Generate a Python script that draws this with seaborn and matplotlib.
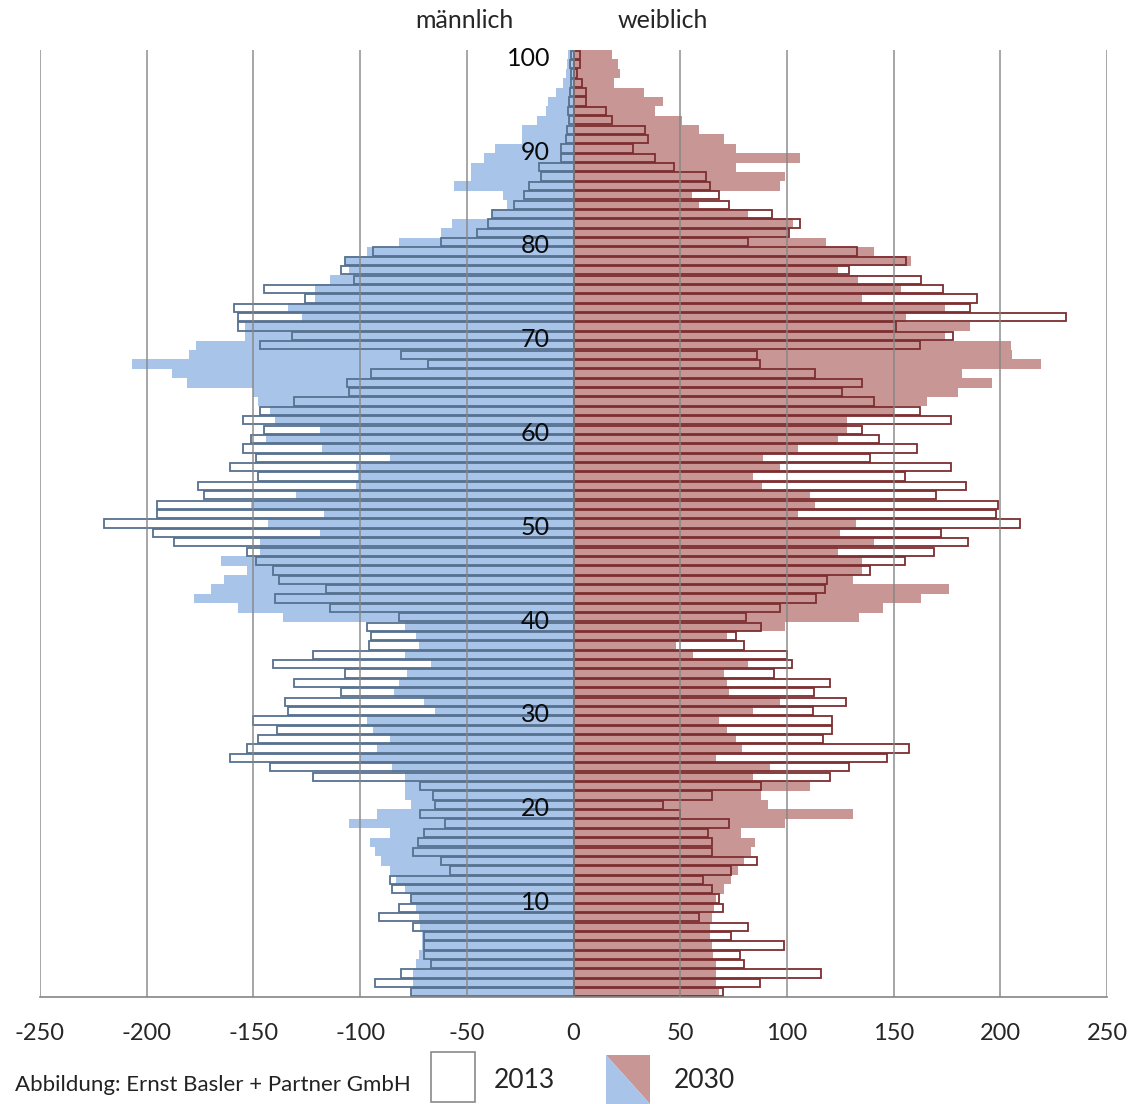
import pandas as pd
import matplotlib.pyplot as plt
from matplotlib.patches import Rectangle, Polygon
import seaborn as sns

# --- Daten (Bevölkerung je Altersjahr) ---
alter = list(range(101))

maenner_2013 = [76, 93, 81, 67, 70, 70, 70, 75, 91, 82,
                76, 85, 86, 58, 62, 75, 73, 70, 60, 72,
                65, 66, 72, 122, 142, 161, 153, 148, 139, 150,
                134, 135, 109, 131, 107, 141, 122, 96, 95, 97,
                82, 114, 140, 116, 138, 141, 149, 153, 187, 197,
                220, 195, 195, 173, 176, 148, 161, 149, 155, 151,
                145, 155, 147, 131, 105, 106, 95, 68, 81, 147,
                132, 157, 157, 159, 126, 145, 103, 109, 107, 94,
                62, 45, 40, 38, 28, 23, 21, 15, 16, 6,
                6, 3.5, 3, 2, 2.5, 2, 1.5, 1, 1, 1.5, 1]

maenner_2030 = [76, 75, 75, 74, 72.5, 71, 71, 72, 72.5, 74,
                76, 79, 83, 86, 90, 93, 95.5, 86, 105, 92,
                76, 79, 79, 79, 85, 100, 92, 86, 94, 97,
                65, 70, 84, 82, 78, 67, 79, 72.5, 74, 79,
                136, 157, 178, 170, 164, 153, 165, 147, 147, 119,
                143, 117, 151, 130, 102, 101, 102, 86, 118, 144,
                119, 140, 142, 148, 150, 181, 188, 207, 180, 177,
                154, 154, 127, 134, 121, 121, 114, 105, 107, 97,
                82, 62, 57, 38, 31, 33, 56, 48, 48, 42,
                37, 24, 24, 17, 13, 12, 8, 5, 3.5, 3, 2.5]

frauen_2013 = [70, 87.5, 116, 80, 78, 98.5, 74, 82, 59, 70,
               68, 65, 60.5, 74, 86, 65, 65, 63, 73, 50,
               42, 65, 88, 120, 129, 147, 157, 117, 121, 121,
               112, 127.5, 112.5, 120, 94, 102.5, 100, 80, 76, 88,
               81, 97, 113.5, 118, 119, 139, 155.5, 169, 185, 172,
               209, 198, 199, 170, 184, 155.5, 177, 139, 161, 143,
               135, 177, 162.5, 141, 126, 135, 113, 87.5, 86, 162.5,
               178, 151, 231, 186, 189, 173, 163, 129, 156, 133,
               82, 101, 106, 93, 73, 68, 64, 62, 47, 38,
               28, 35, 33.5, 18, 15, 6, 6, 4, 1.5, 3, 3]

frauen_2030 = [68, 67, 67, 67, 65.5, 65, 64, 64, 65, 66,
               67, 70.5, 74, 77, 80, 83, 85, 78.5, 99, 131,
               91, 88, 111, 84, 92, 67, 79, 76, 72, 68,
               84, 97, 73, 72, 70.5, 82, 56, 48, 72, 99,
               134, 145, 163, 176, 131, 135, 135, 124, 141, 125,
               132.5, 105, 113, 111, 88.5, 84, 97, 89, 105, 124,
               128, 128, 150, 165.5, 180, 196, 182, 219, 205.5, 205,
               174, 186, 156, 174, 135, 153.5, 133.5, 124, 158, 141,
               118.5, 101, 103, 82, 59, 55.5, 97, 99, 76, 106,
               76, 70.5, 59, 51, 38, 42, 33, 19, 22, 21, 18]

x_ticks = [-250, -200, -150, -100, -50, 0, 50, 100, 150, 200, 250]
alter_labels = [10, 20, 30, 40, 50, 60, 70, 80, 90, 100]

df = pd.DataFrame({
    'alter': alter,
    'm2013': [-v for v in maenner_2013],
    'm2030': [-v for v in maenner_2030],
    'f2013': frauen_2013,
    'f2030': frauen_2030,
})

# --- Farben ---
BLAU = '#a8c4e9'
ROT = '#c99696'
BLAU_RAND = '#56718f'
ROT_RAND = '#7d2e30'
GRID = '#858585'

sns.set_style("white")
plt.rcParams['font.family'] = ['Lato', 'DejaVu Sans']

fig = plt.figure(figsize=(11.36, 11.04), dpi=100)
ax = fig.add_axes([40 / 1136, 107 / 1104, 1067 / 1136, 947 / 1104])

# 2030: gefüllte Balken
sns.barplot(data=df, x='m2030', y='alter', orient='h', native_scale=True,
            width=1.0, color=BLAU, saturation=1, linewidth=0,
            errorbar=None, ax=ax, zorder=2)
sns.barplot(data=df, x='f2030', y='alter', orient='h', native_scale=True,
            width=1.0, color=ROT, saturation=1, linewidth=0,
            errorbar=None, ax=ax, zorder=2)

# 2013: nur Umrisse
sns.barplot(data=df, x='m2013', y='alter', orient='h', native_scale=True,
            width=0.88, color=BLAU_RAND, fill=False, linewidth=1.3,
            errorbar=None, ax=ax, zorder=4)
sns.barplot(data=df, x='f2013', y='alter', orient='h', native_scale=True,
            width=0.88, color=ROT_RAND, fill=False, linewidth=1.3,
            errorbar=None, ax=ax, zorder=4)

# Gitterlinien über den Balken
for xv in x_ticks:
    ax.axvline(xv, color=GRID, linewidth=1.2, alpha=0.85, zorder=5)

ax.set_xlim(-250, 250)
ax.set_ylim(-0.5, 100.5)
for s in ['top', 'right', 'left']:
    ax.spines[s].set_visible(False)
ax.spines['bottom'].set_color(GRID)
ax.spines['bottom'].set_linewidth(1.2)
ax.spines['bottom'].set_zorder(6)
ax.set_xticks(x_ticks)
ax.set_xticklabels([str(t) for t in x_ticks], fontsize=17)
ax.tick_params(axis='x', length=9, width=1.2, color=GRID, direction='inout', pad=14)
ax.set_yticks([])
ax.set_xlabel('')
ax.set_ylabel('')

# Altersbeschriftung neben der Nulllinie
for a in alter_labels:
    ax.text(-11, a - 0.4, str(a), ha='right', va='center', fontsize=18,
            color='#0a0a0a', zorder=7)

# Titel männlich / weiblich
fig.text(464 / 1136, 1 - 21 / 1104, 'männlich', ha='center', va='center', fontsize=18)
fig.text(663 / 1136, 1 - 21 / 1104, 'weiblich', ha='center', va='center', fontsize=18)

# Legende unten
fig.text(15 / 1136, 1 - 1085 / 1104, 'Abbildung: Ernst Basler + Partner GmbH',
         ha='left', va='center', fontsize=16, color='#222222')
fig.add_artist(Rectangle((431 / 1136, 2 / 1104), 44 / 1136, 50 / 1104,
                         transform=fig.transFigure, facecolor='white',
                         edgecolor='#8a8a8a', linewidth=1.2))
fig.text(494 / 1136, 1 - 1080 / 1104, '2013', ha='left', va='center', fontsize=19)
x0, x1 = 606 / 1136, 650 / 1136
y0, y1 = 0 / 1104, 49 / 1104
fig.add_artist(Polygon([(x0, y1), (x1, y1), (x1, y0)], closed=True,
                       transform=fig.transFigure, facecolor=ROT, edgecolor='none'))
fig.add_artist(Polygon([(x0, y1), (x0, y0), (x1, y0)], closed=True,
                       transform=fig.transFigure, facecolor=BLAU, edgecolor='none'))
fig.text(674 / 1136, 1 - 1080 / 1104, '2030', ha='left', va='center', fontsize=19)

fig.savefig('out.png', dpi=100)
